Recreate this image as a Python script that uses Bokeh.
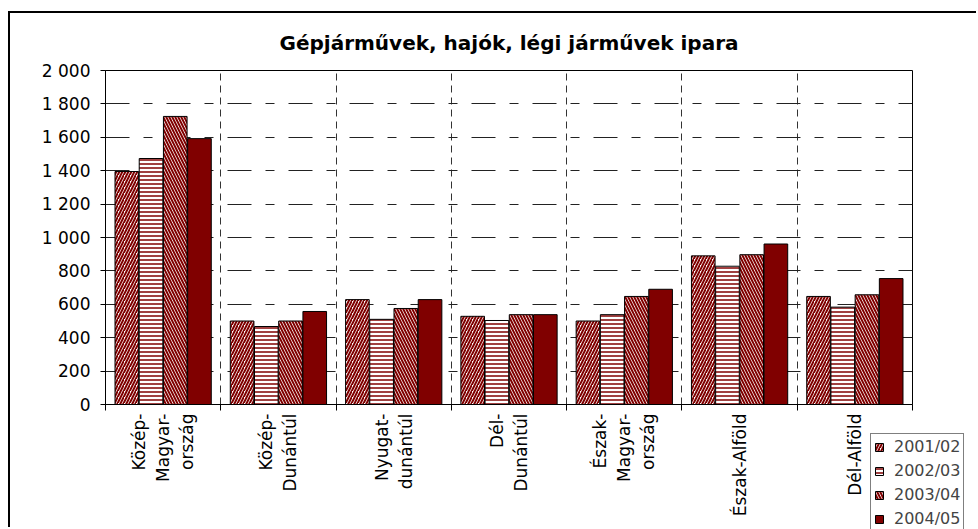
import math
from bokeh.plotting import figure
from bokeh.models import ColumnDataSource, Range1d, FixedTicker, Legend, LegendItem
from bokeh.transform import dodge
from bokeh.embed import file_html
from bokeh.resources import INLINE

categories = ["Közép-\nMagyar-\nország", "Közép-\nDunántúl", "Nyugat-\ndunántúl",
              "Dél-\nDunántúl", "Észak-\nMagyar-\nország", "Észak-Alföld", "Dél-Alföld"]
series_names = ["2001/02", "2002/03", "2003/04", "2004/05"]
v2001 = [1395, 500, 628, 528, 500, 890, 647]
v2002 = [1473, 467, 510, 503, 538, 828, 583]
v2003 = [1725, 500, 575, 538, 647, 897, 657]
v2004 = [1592, 557, 628, 538, 690, 961, 754]
y_ticks = [0, 200, 400, 600, 800, 1000, 1200, 1400, 1600, 1800, 2000]
y_tick_labels = ["0", "200", "400", "600", "800", "1 000", "1 200", "1 400", "1 600", "1 800", "2 000"]
title_text = "Gépjárművek, hajók, légi járművek ipara"

DARK = "#800000"
FONT = "DejaVu Sans"

centers = [i + 0.5 for i in range(len(categories))]
source = ColumnDataSource(dict(x=centers, a=v2001, b=v2002, c=v2003, d=v2004))

p = figure(width=968, height=516, output_backend="svg", toolbar_location=None,
           x_range=Range1d(0, len(categories)), y_range=Range1d(0, 2000),
           min_border_left=95, min_border_top=56, min_border_right=66, min_border_bottom=125)
p.background_fill_color = "white"
p.border_fill_color = "white"
p.outline_line_color = "black"
p.outline_line_width = 1
p.styles = {"margin-left": "8px", "margin-top": "11px",
            "border-left": "2px solid black", "border-top": "2px solid black"}

p.title.text = title_text
p.title.align = "center"
p.title.text_font = FONT
p.title.text_font_style = "bold"
p.title.text_font_size = "20px"
p.title.text_color = "black"
p.title.standoff = 31

w = 0.205
offs = [-0.315, -0.105, 0.105, 0.315]
styles = [
    dict(fill_color="white", hatch_pattern="right_diagonal_line", hatch_color=DARK, hatch_scale=6, hatch_weight=2),
    dict(fill_color="white", hatch_pattern="horizontal_line", hatch_color=DARK, hatch_scale=4, hatch_weight=1.5),
    dict(fill_color="white", hatch_pattern="left_diagonal_line", hatch_color=DARK, hatch_scale=6, hatch_weight=2),
    dict(fill_color=DARK),
]
for col, off, st in zip(["a", "b", "c", "d"], offs, styles):
    p.vbar(x=dodge("x", off, range=p.x_range), top=col, width=w, source=source,
           line_color="black", line_width=1, **st)

# x axis: labels at centres, ticks at boundaries (minor)
xt = FixedTicker(ticks=centers, minor_ticks=list(range(len(categories) + 1)))
p.xaxis.ticker = xt
p.xgrid.ticker = xt
p.xaxis.major_label_overrides = {c: lab for c, lab in zip(centers, categories)}
p.xaxis.major_label_orientation = math.pi / 2
p.xaxis.major_tick_line_color = None
p.xaxis.minor_tick_line_color = "black"
p.xaxis.minor_tick_out = 6
p.xaxis.minor_tick_in = 0
p.xaxis.major_label_standoff = 3
p.xaxis.major_label_text_font = FONT
p.xaxis.major_label_text_font_size = "17px"
p.xaxis.major_label_text_color = "black"
p.xaxis.axis_line_color = "black"

p.xgrid.grid_line_color = None
p.xgrid.minor_grid_line_color = "#333333"
p.xgrid.minor_grid_line_dash = "7 5"
p.xgrid.minor_grid_line_width = 1

yt = FixedTicker(ticks=y_ticks, minor_ticks=[])
p.yaxis.ticker = yt
p.ygrid.ticker = yt
p.yaxis.major_label_overrides = {t: lab for t, lab in zip(y_ticks, y_tick_labels)}
p.yaxis.major_label_text_font = FONT
p.yaxis.major_label_text_font_size = "17px"
p.yaxis.major_label_text_color = "black"
p.yaxis.major_tick_out = 5
p.yaxis.major_tick_in = 0
p.yaxis.major_tick_line_color = "black"
p.yaxis.minor_tick_line_color = None
p.yaxis.major_label_standoff = 10
p.yaxis.axis_line_color = "black"
p.ygrid.grid_line_color = "#222222"
p.ygrid.grid_line_dash = "24 14 9 14"
p.ygrid.grid_line_width = 1

# legend in a small overlay figure; its bar renderers share the data but lie outside its view
p2 = figure(width=108, height=96, output_backend="svg", toolbar_location=None,
            x_axis_type=None, y_axis_type=None, min_border=0,
            min_border_left=0, min_border_right=0, min_border_top=0, min_border_bottom=0,
            x_range=Range1d(-20, -19), y_range=Range1d(0, 1))
p2.outline_line_color = None
p2.background_fill_alpha = 0
p2.border_fill_alpha = 0
p2.styles = {"position": "absolute", "left": "870px", "top": "433px"}
items = []
for name, col, st in zip(series_names, ["a", "b", "c", "d"], styles):
    r = p2.vbar(x="x", top=col, width=w, source=source, line_color="black", line_width=1, **st)
    items.append(LegendItem(label=name, renderers=[r]))
legend = Legend(items=items, location="top_left", orientation="vertical",
                label_text_font=FONT, label_text_font_size="16px",
                glyph_width=10, glyph_height=10, label_height=18, spacing=5,
                padding=3, margin=0, label_standoff=10,
                border_line_color="black", border_line_width=1,
                background_fill_color="white", background_fill_alpha=1)
p2.add_layout(legend, "center")

open("out.html", "w").write(file_html([p, p2], INLINE))
